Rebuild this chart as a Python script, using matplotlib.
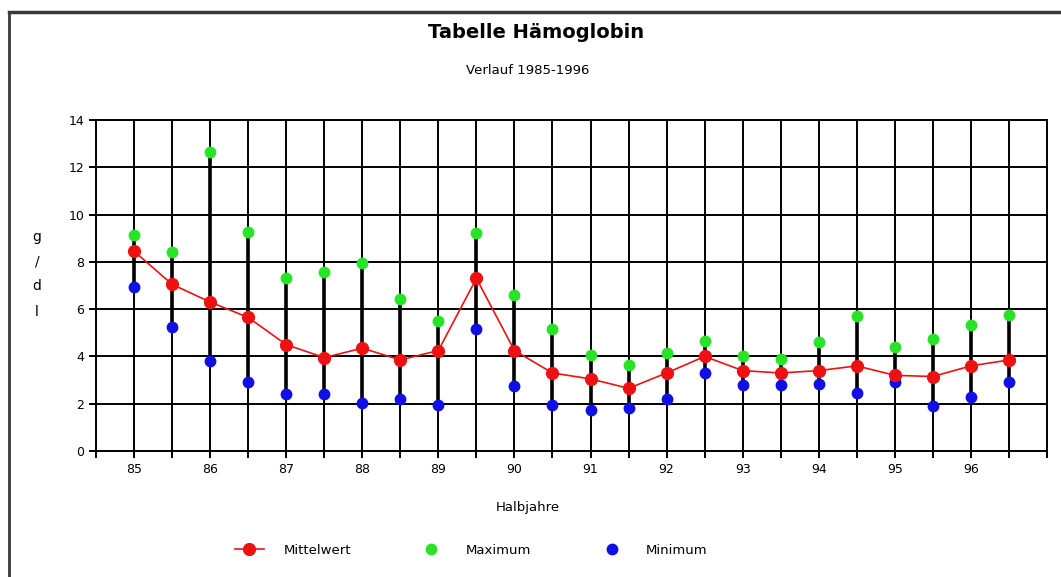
import numpy as np
import matplotlib
matplotlib.use('Agg')
import matplotlib.pyplot as plt
from matplotlib.lines import Line2D

# Halbjahre 1985 - 1996 (zwei Werte pro Jahr)
halbjahre = ['85', '', '86', '', '87', '', '88', '', '89', '', '90', '',
             '91', '', '92', '', '93', '', '94', '', '95', '', '96', '']

mittelwert = [8.45, 7.05, 6.3, 5.65, 4.5, 3.95, 4.35, 3.85, 4.25, 7.3, 4.25, 3.3,
              3.05, 2.65, 3.3, 4.0, 3.4, 3.3, 3.4, 3.6, 3.2, 3.15, 3.6, 3.85]
maximum = [9.15, 8.4, 12.65, 9.25, 7.3, 7.55, 7.95, 6.45, 5.5, 9.2, 6.6, 5.15,
           4.05, 3.65, 4.15, 4.65, 4.0, 3.9, 4.6, 5.7, 4.4, 4.75, 5.35, 5.75]
minimum = [6.95, 5.25, 3.8, 2.9, 2.4, 2.4, 2.05, 2.2, 1.95, 5.15, 2.75, 1.95,
           1.75, 1.8, 2.2, 3.3, 2.8, 2.8, 2.85, 2.45, 2.9, 1.9, 2.3, 2.9]

yticks = [0, 2, 4, 6, 8, 10, 12, 14]

x = np.arange(len(halbjahre))

fig = plt.figure(figsize=(10.61, 5.77), dpi=100)
ax = fig.add_axes([96/1061, 1-451/577, (1047-96)/1061, (451-120)/577])

# Gitter
ax.set_xlim(-1, len(halbjahre))
ax.set_ylim(0, 14)
ax.set_xticks(np.arange(-1, len(halbjahre)+1))
ax.set_xticklabels([''] + halbjahre + [''])
ax.set_yticks(yticks)
ax.grid(True, color='black', linewidth=1.4)
ax.tick_params(axis='both', direction='out', length=5, width=1.4,
               color='black', labelsize=9)
for s in ax.spines.values():
    s.set_color('black')
    s.set_linewidth(1.4)

# Spannweite Min - Max
ax.vlines(x, minimum, maximum, color='black', linewidth=2.6, zorder=3)

ax.plot(x, maximum, 'o', color='#27e427', markersize=7.5, zorder=4, label='Maximum')
ax.plot(x, minimum, 'o', color='#1010e6', markersize=7.5, zorder=4, label='Minimum')
ax.plot(x, mittelwert, '-o', color='#ee1111', linewidth=1.2, markersize=8.5,
        zorder=5, label='Mittelwert')

# Texte
fig.text(0.505, 1-33/577, 'Tabelle Hämoglobin', ha='center', va='center',
         fontsize=14, fontweight='bold')
fig.text(0.497, 1-70/577, 'Verlauf 1985-1996', ha='center', va='center', fontsize=9.5)
fig.text(0.497, 1-508/577, 'Halbjahre', ha='center', va='center', fontsize=9.5)
fig.text(37/1061, 1-274/577, 'g\n/\nd\nl', ha='center', va='center',
         fontsize=10, linespacing=2.0)

# Legende
handles, labels = ax.get_legend_handles_labels()
order = [2, 0, 1]
fig.legend([handles[i] for i in order], [labels[i] for i in order],
           loc='center', bbox_to_anchor=(0.444, 1-550/577), ncol=3,
           frameon=False, fontsize=9.5, columnspacing=5, handlelength=2.2,
           handletextpad=1.5)

# Rahmen
fig.add_artist(Line2D([9/1061, 9/1061], [0, 1-12/577], color='#3a3a3a', linewidth=2))
fig.add_artist(Line2D([9/1061, 1], [1-12/577, 1-12/577], color='#3a3a3a', linewidth=2.5))

fig.savefig('out.png', dpi=100)
